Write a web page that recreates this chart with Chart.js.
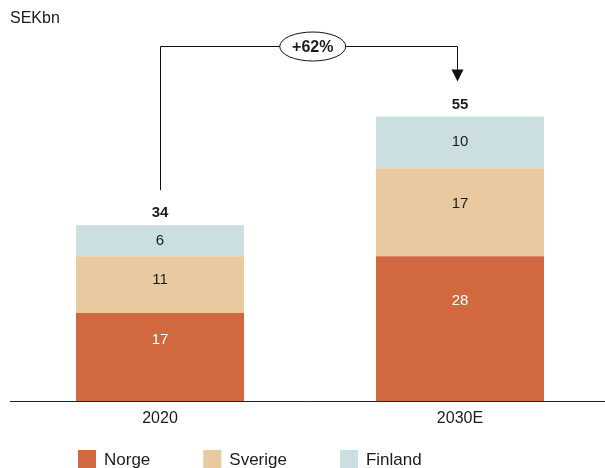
<!DOCTYPE html>
<html>
<head>
<meta charset="utf-8">
<script src="https://cdn.jsdelivr.net/npm/chart.js@4.4.0/dist/chart.umd.min.js"></script>
<style>
  html, body { margin: 0; padding: 0; background: #fff; overflow: hidden; }
  #wrap { width: 605px; height: 468px; overflow: hidden; }
  canvas { display: block; }
</style>
</head>
<body>
<div id="wrap"><canvas id="chart" width="620" height="468"></canvas></div>
<script>
const categories = ['2020', '2030E'];
const norge   = [17, 28];
const sverige = [11, 17];
const finland = [6, 10];
const totals  = [34, 55];
const growthLabel = '+62%';
const unitLabel = 'SEKbn';

const FONT = '"Liberation Sans", Arial, sans-serif';
const C = {
  norge: '#D2683F',
  sverige: '#E8C9A0',
  finland: '#CBDFE1',
  text: '#1c1c1c',
};
// where the value label sits inside each segment, measured from its top
const labelPos = [0.31, 0.41, 0.49];

// segment values + totals + growth arrow + legend
const labelsPlugin = {
  id: 'labels',
  afterDatasetsDraw(chart) {
    const { ctx, chartArea } = chart;
    ctx.save();
    ctx.textAlign = 'center';
    ctx.textBaseline = 'middle';
    ctx.font = `15px ${FONT}`;
    chart.data.datasets.forEach((ds, di) => {
      const meta = chart.getDatasetMeta(di);
      meta.data.forEach((bar, i) => {
        ctx.fillStyle = di === 0 ? '#ffffff' : C.text;
        ctx.fillText(ds.data[i], bar.x, bar.y + (bar.base - bar.y) * labelPos[di]);
      });
    });

    const top = chart.getDatasetMeta(chart.data.datasets.length - 1).data;
    ctx.font = `bold 15px ${FONT}`;
    ctx.fillStyle = C.text;
    top.forEach((bar, i) => ctx.fillText(totals[i], bar.x, bar.y - 12));

    // growth arrow
    const x0 = top[0].x, x1 = top[1].x - 2.5;
    const yStart = top[0].y - 35;
    const yTip = top[1].y - 35;
    const yLine = chartArea.top + 7.5;
    ctx.strokeStyle = '#111';
    ctx.lineWidth = 1;
    ctx.beginPath();
    ctx.moveTo(x0 + 0.5, yStart);
    ctx.lineTo(x0 + 0.5, yLine);
    ctx.lineTo(x1, yLine);
    ctx.lineTo(x1, yTip - 11);
    ctx.stroke();
    ctx.fillStyle = '#111';
    ctx.beginPath();
    ctx.moveTo(x1 - 6, yTip - 12);
    ctx.lineTo(x1 + 6, yTip - 12);
    ctx.lineTo(x1, yTip);
    ctx.closePath();
    ctx.fill();

    const cx = (x0 + x1) / 2 + 4;
    ctx.beginPath();
    ctx.ellipse(cx, yLine, 33, 14.5, 0, 0, Math.PI * 2);
    ctx.fillStyle = '#fff';
    ctx.fill();
    ctx.stroke();
    ctx.fillStyle = C.text;
    ctx.font = `bold 16px ${FONT}`;
    ctx.fillText(growthLabel, cx, yLine + 1);

    // unit label
    ctx.textAlign = 'left';
    ctx.font = `16px ${FONT}`;
    ctx.fillText(unitLabel, 10, 19);

    // legend
    ctx.font = `17px ${FONT}`;
    let x = 78;
    const ly = 459;
    chart.data.datasets.forEach(ds => {
      ctx.fillStyle = ds.backgroundColor;
      ctx.fillRect(x, ly - 9, 18, 18);
      ctx.fillStyle = C.text;
      ctx.fillText(ds.label, x + 26, ly + 1);
      x += 26 + ctx.measureText(ds.label).width + 53;
    });
    ctx.restore();
  }
};

new Chart(document.getElementById('chart'), {
  type: 'bar',
  data: {
    labels: categories,
    datasets: [
      { label: 'Norge',   data: norge,   backgroundColor: C.norge },
      { label: 'Sverige', data: sverige, backgroundColor: C.sverige },
      { label: 'Finland', data: finland, backgroundColor: C.finland },
    ]
  },
  options: {
    responsive: false,
    devicePixelRatio: 1,
    animation: false,
    layout: { padding: { left: 10, right: 10, top: 39, bottom: 35 } },
    datasets: { bar: { categoryPercentage: 1, barPercentage: 0.56 } },
    plugins: { legend: { display: false }, tooltip: { enabled: false } },
    scales: {
      x: {
        stacked: true,
        grid: { display: false },
        border: { display: true, color: '#222', width: 1 },
        ticks: { color: C.text, font: { family: FONT, size: 16 }, padding: 0 },
        afterFit: s => { s.height = 32; }
      },
      y: {
        stacked: true,
        display: false,
        min: 0,
        max: 70
      }
    }
  },
  plugins: [labelsPlugin]
});
</script>
</body>
</html>
